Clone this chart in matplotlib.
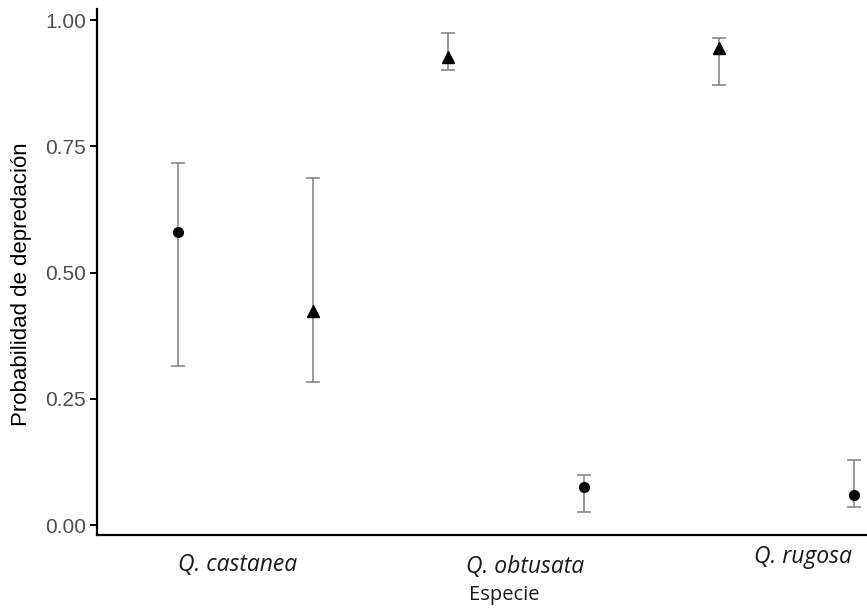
import numpy as np
import matplotlib
matplotlib.use('Agg')
import matplotlib.pyplot as plt
from matplotlib.transforms import blended_transform_factory

species = ['Q. castanea', 'Q. obtusata', 'Q. rugosa']
# two groups per species: circle = group A, triangle = group B
circle_x = [1, 2, 3]
circle_off = [-0.25, 0.25, 0.25]
circle_y = [0.580, 0.075, 0.059]
circle_lo = [0.315, 0.026, 0.036]
circle_hi = [0.717, 0.099, 0.129]

tri_off = [0.25, -0.25, -0.25]
tri_y = [0.424, 0.927, 0.945]
tri_lo = [0.283, 0.901, 0.871]
tri_hi = [0.687, 0.974, 0.964]

yticks = [0.00, 0.25, 0.50, 0.75, 1.00]


def main():
    fig = plt.figure(figsize=(8.67, 6.11), dpi=100)
    ax = fig.add_axes([97 / 867, 1 - 535 / 611, 1 - 97 / 867, (535 - 9) / 611])

    cx = np.array(circle_x) + np.array(circle_off)
    tx = np.array(circle_x) + np.array(tri_off)
    cy = np.array(circle_y)
    ty = np.array(tri_y)

    err_kw = dict(fmt='none', ecolor='#808080', elinewidth=1.1, capsize=4.7, capthick=1.1)
    ax.errorbar(cx, cy, yerr=[cy - np.array(circle_lo), np.array(circle_hi) - cy], **err_kw)
    ax.errorbar(tx, ty, yerr=[ty - np.array(tri_lo), np.array(tri_hi) - ty], **err_kw)
    ax.plot(cx, cy, 'o', color='black', markersize=7, zorder=3)
    ax.plot(tx, ty, '^', color='black', markersize=8, zorder=3)

    ax.set_xlim(0.451, 3.298)
    ax.set_ylim(-0.0198, 1.0218)
    ax.set_yticks(yticks)
    ax.set_yticklabels(['%.2f' % v for v in yticks], fontsize=15, color='#4D4D4D',
                       family='Liberation Sans')
    ax.tick_params(axis='y', length=5, width=1.4, color='black', pad=3)
    ax.set_xticks([])

    for s in ['top', 'right']:
        ax.spines[s].set_visible(False)
    for s in ['left', 'bottom']:
        ax.spines[s].set_linewidth(1.6)

    ax.set_ylabel('Probabilidad de depredación', fontsize=16, family='Liberation Sans')
    ax.yaxis.set_label_coords(-0.085, 0.477)

    # species labels sit a bit off-centre in the original
    tr = blended_transform_factory(ax.transData, fig.transFigure)
    label_dx = [-0.03, 0.033, 0.061]
    label_y = [1 - 565 / 611, 1 - 567 / 611, 1 - 557 / 611]
    for i, name in enumerate(species):
        ax.text(circle_x[i] + label_dx[i], label_y[i], name, transform=tr,
                ha='center', va='center', fontsize=16.5, style='italic',
                family='Open Sans', color='#1a1a1a')
    fig.text(504 / 867, 1 - 595 / 611, 'Especie', ha='center', va='center',
             fontsize=14.5, family='Open Sans', color='#1a1a1a')

    fig.savefig('out.png', dpi=100)


if __name__ == '__main__':
    main()
